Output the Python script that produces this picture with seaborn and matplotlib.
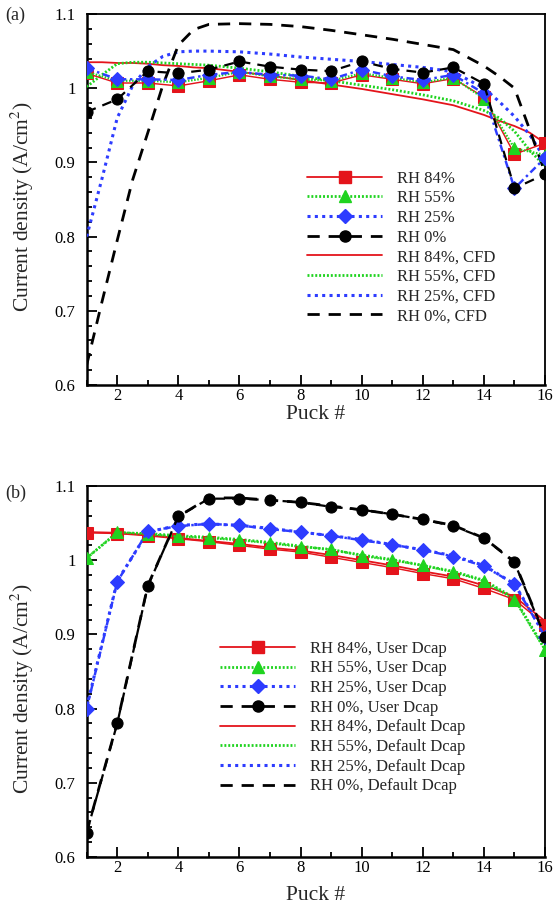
import numpy as np
import pandas as pd
import matplotlib
matplotlib.use("Agg")
import matplotlib.pyplot as plt
from matplotlib.ticker import MultipleLocator, FuncFormatter
from matplotlib.lines import Line2D
import seaborn as sns

# ---------------- data ----------------
puck = list(range(1, 17))

# (a) measured current density per puck
a_exp_84 = [1.020, 1.007, 1.007, 1.003, 1.010, 1.018, 1.012, 1.008, 1.007, 1.018, 1.012, 1.006, 1.013, 0.988, 0.911, 0.926]
a_exp_55 = [1.022, 1.010, 1.010, 1.008, 1.014, 1.022, 1.016, 1.012, 1.010, 1.020, 1.014, 1.008, 1.014, 0.986, 0.919, 0.910]
a_exp_25 = [1.027, 1.012, 1.012, 1.011, 1.018, 1.022, 1.018, 1.017, 1.012, 1.025, 1.016, 1.011, 1.018, 0.993, 0.865, 0.906]
a_exp_0 = [0.968, 0.985, 1.023, 1.020, 1.025, 1.036, 1.029, 1.025, 1.023, 1.036, 1.026, 1.021, 1.028, 1.006, 0.865, 0.884]

# (a) CFD profiles
cfd_x = [1, 1.5, 2, 2.5, 3, 3.5, 4, 4.5, 5, 6, 7, 8, 9, 10, 11, 12, 13, 14, 14.5, 15, 15.5, 16]
a_cfd_84 = [1.035, 1.035, 1.034, 1.034, 1.033, 1.031, 1.030, 1.028, 1.027, 1.022, 1.017, 1.011, 1.005, 0.999, 0.992, 0.985, 0.977, 0.964, 0.956, 0.949, 0.940, 0.926]
a_cfd_55 = [1.002, 1.018, 1.033, 1.035, 1.035, 1.034, 1.033, 1.032, 1.031, 1.027, 1.022, 1.016, 1.010, 1.004, 0.998, 0.991, 0.983, 0.970, 0.960, 0.942, 0.916, 0.895]
a_cfd_25 = [0.800, 0.878, 0.960, 1.003, 1.029, 1.043, 1.049, 1.050, 1.050, 1.049, 1.046, 1.042, 1.039, 1.036, 1.032, 1.028, 1.022, 1.000, 0.982, 0.962, 0.937, 0.905]
a_cfd_0 = [0.627, 0.712, 0.795, 0.876, 0.940, 1.005, 1.058, 1.079, 1.086, 1.087, 1.086, 1.083, 1.078, 1.072, 1.066, 1.059, 1.052, 1.030, 1.016, 1.000, 0.944, 0.886]

# (b) user-defined Dcap
b_user_84 = [1.037, 1.036, 1.033, 1.029, 1.025, 1.020, 1.015, 1.011, 1.004, 0.997, 0.990, 0.982, 0.975, 0.962, 0.947, 0.913]
b_user_55 = [1.003, 1.038, 1.035, 1.032, 1.030, 1.027, 1.023, 1.018, 1.015, 1.006, 1.000, 0.993, 0.984, 0.972, 0.947, 0.879]
b_user_25 = [0.800, 0.971, 1.039, 1.046, 1.049, 1.047, 1.042, 1.038, 1.033, 1.027, 1.021, 1.014, 1.005, 0.992, 0.968, 0.897]
b_user_0 = [0.633, 0.780, 0.965, 1.059, 1.083, 1.083, 1.081, 1.078, 1.072, 1.068, 1.062, 1.055, 1.046, 1.030, 0.997, 0.897]

# (b) default Dcap
b_def_84 = [1.038, 1.037, 1.034, 1.030, 1.026, 1.022, 1.017, 1.013, 1.007, 1.000, 0.993, 0.985, 0.978, 0.966, 0.951, 0.918]
b_def_55 = [1.003, 1.037, 1.036, 1.033, 1.031, 1.028, 1.024, 1.019, 1.014, 1.007, 1.001, 0.993, 0.985, 0.973, 0.949, 0.880]
b_def_25 = [0.802, 0.972, 1.038, 1.047, 1.049, 1.047, 1.043, 1.038, 1.033, 1.028, 1.021, 1.014, 1.006, 0.993, 0.968, 0.899]
b_def_0 = [0.634, 0.781, 0.966, 1.059, 1.084, 1.084, 1.081, 1.078, 1.073, 1.068, 1.062, 1.055, 1.047, 1.030, 0.998, 0.898]

labels_a = ["RH 84%", "RH 55%", "RH 25%", "RH 0%",
            "RH 84%, CFD", "RH 55%, CFD", "RH 25%, CFD", "RH 0%, CFD"]
labels_b = ["RH 84%, User Dcap", "RH 55%, User Dcap", "RH 25%, User Dcap", "RH 0%, User Dcap",
            "RH 84%, Default Dcap", "RH 55%, Default Dcap", "RH 25%, Default Dcap", "RH 0%, Default Dcap"]

# ---------------- styling ----------------
sns.set_theme(style="ticks")
plt.rcParams["font.family"] = ["Liberation Serif", "DejaVu Serif"]
plt.rcParams["mathtext.fontset"] = "stix"

RED, GREEN, BLUE, BLACK = "#e4141b", "#1fd31f", "#2d3cff", "#000000"
styles = [
    dict(color=RED, linestyle="-", lw=1.3, marker="s", ms=8),
    dict(color=GREEN, linestyle=(0, (0.7, 0.7)), lw=2.0, marker="^", ms=9),
    dict(color=BLUE, linestyle=(0, (1.0, 1.4)), lw=2.2, marker="D", ms=7.5),
    dict(color=BLACK, linestyle=(0, (4.4, 3.2)), lw=2.0, marker="o", ms=8),
]
# line patterns joining the marked series (25% joined with a dash-dot)
marked_ls = ["-", (0, (0.7, 0.7)), (0, (3.0, 1.5, 1.0, 1.5)), (0, (4.4, 3.2))]

fig = plt.figure(figsize=(5.55, 9.09), dpi=100)
ax_a = fig.add_axes([0.1562, 0.5765, 0.8258, 0.4081])
ax_b = fig.add_axes([0.1562, 0.0572, 0.8258, 0.4081])


def draw_panel(ax, xs_mark, marked, xs_line, plain, labels, legend_anchor):
    handles = []
    for ys, st, ls, lab in zip(marked, styles, marked_ls, labels[:4]):
        df = pd.DataFrame({"puck": xs_mark, "j": ys})
        sns.lineplot(data=df, x="puck", y="j", ax=ax, color=st["color"],
                     linestyle=ls, linewidth=st["lw"] * 0.8,
                     marker=st["marker"], markersize=st["ms"],
                     markeredgecolor=st["color"], markerfacecolor=st["color"],
                     errorbar=None, sort=False, zorder=4)
        handles.append(Line2D([], [], color=st["color"], linestyle=st["linestyle"],
                              linewidth=st["lw"], marker=st["marker"], markersize=st["ms"],
                              markeredgecolor=st["color"], label=lab))
    for ys, st, lab in zip(plain, styles, labels[4:]):
        df = pd.DataFrame({"puck": xs_line, "j": ys})
        sns.lineplot(data=df, x="puck", y="j", ax=ax, color=st["color"],
                     linestyle=st["linestyle"], linewidth=st["lw"],
                     errorbar=None, sort=False, zorder=3)
        handles.append(Line2D([], [], color=st["color"], linestyle=st["linestyle"],
                              linewidth=st["lw"], label=lab))

    ax.set_xlim(1, 16)
    ax.set_ylim(0.6, 1.1)
    ax.xaxis.set_major_locator(MultipleLocator(2))
    ax.xaxis.set_minor_locator(MultipleLocator(1))
    ax.yaxis.set_major_locator(MultipleLocator(0.1))
    ax.yaxis.set_minor_locator(MultipleLocator(0.02))
    ax.yaxis.set_major_formatter(FuncFormatter(lambda v, p: f"{v:g}"))
    ax.tick_params(which="both", direction="in", top=False, right=False,
                   labelsize=12, width=1.3, colors="black")
    ax.tick_params(which="major", length=7)
    ax.tick_params(which="minor", length=3.5)
    ax.tick_params(axis="y", which="major", pad=8)
    ax.tick_params(axis="x", which="major", pad=2.5)
    for side in ["left", "bottom"]:
        ax.spines[side].set_linewidth(1.8)
    for side in ["top", "right"]:
        ax.spines[side].set_linewidth(1.3)
    for s in ax.spines.values():
        s.set_color("black")

    ax.set_ylabel("Current density (A/cm$^2$)", fontsize=15.5)
    ax.set_xlabel("Puck #", fontsize=15.5)

    leg = ax.legend(handles=handles, loc="upper left", bbox_to_anchor=legend_anchor,
                    frameon=False, fontsize=12, handlelength=4.5, handletextpad=0.9,
                    labelspacing=0.22, borderpad=0, borderaxespad=0)
    return leg


draw_panel(ax_a, puck, [a_exp_84, a_exp_55, a_exp_25, a_exp_0],
           cfd_x, [a_cfd_84, a_cfd_55, a_cfd_25, a_cfd_0], labels_a, (0.481, 0.578))
draw_panel(ax_b, puck, [b_user_84, b_user_55, b_user_25, b_user_0],
           puck, [b_def_84, b_def_55, b_def_25, b_def_0], labels_b, (0.291, 0.583))

ax_a.yaxis.set_label_coords(-0.11, 0.48)
ax_b.yaxis.set_label_coords(-0.11, 0.455)
ax_a.xaxis.set_label_coords(0.5, -0.054)
ax_b.xaxis.set_label_coords(0.5, -0.078)

fig.text(5 / 555, 1 - 15 / 909, "(a)", fontsize=13, va="center", ha="left")
fig.text(5 / 555, 1 - 493 / 909, "(b)", fontsize=13, va="center", ha="left")

fig.savefig("out.png", dpi=100, facecolor="white")
